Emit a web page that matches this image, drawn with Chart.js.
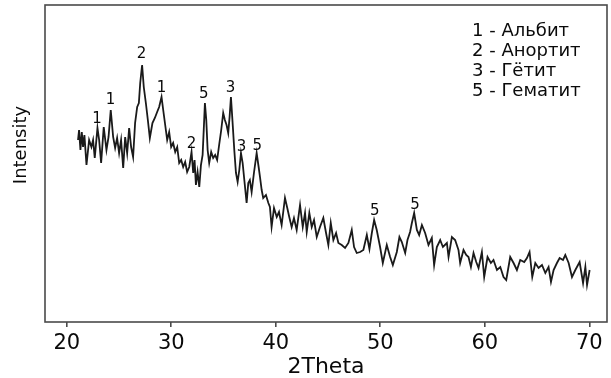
<!DOCTYPE html>
<html>
<head>
<meta charset="utf-8">
<script src="https://cdn.jsdelivr.net/npm/chart.js@4"></script>
<style>
  html, body { margin: 0; padding: 0; background: #fff; }
  #wrap { width: 611px; height: 378px; }
</style>
</head>
<body>
<div id="wrap"><canvas id="xrdChart" width="611" height="378"></canvas></div>
<script>
// diffraction pattern (intensity in arbitrary units)
var twoTheta = [
  21.08, 21.18, 21.31, 21.44, 21.56, 21.69, 21.89, 22.14, 22.36, 22.52, 22.68, 22.94, 23.1, 23.29, 23.54, 23.8,
  24.0, 24.21, 24.44, 24.63, 24.82, 25.01, 25.2, 25.4, 25.59, 25.78, 25.97, 26.16, 26.35, 26.54, 26.74, 26.9,
  27.03, 27.21, 27.37, 27.57, 27.76, 27.95, 28.2, 28.43, 28.65, 28.84, 29.07, 29.23, 29.42, 29.61, 29.8, 29.99,
  30.18, 30.38, 30.57, 30.76, 30.95, 31.14, 31.33, 31.52, 31.72, 31.94, 32.1, 32.23, 32.36, 32.52, 32.68, 32.84,
  33.0, 33.12, 33.22, 33.35, 33.48, 33.63, 33.82, 34.01, 34.2, 34.39, 34.58, 34.78, 34.97, 35.13, 35.29, 35.45,
  35.58, 35.71, 35.87, 36.03, 36.19, 36.35, 36.51, 36.67, 36.83, 36.99, 37.21, 37.37, 37.52, 37.69, 37.91, 38.17,
  38.36, 38.49, 38.65, 38.8, 39.06, 39.29, 39.44, 39.6, 39.83, 40.09, 40.31, 40.56, 40.88, 41.1, 41.29, 41.52,
  41.74, 42.0, 42.32, 42.58, 42.8, 42.96, 43.21, 43.44, 43.66, 43.92, 44.23, 44.55, 44.81, 45.03, 45.26, 45.51,
  45.77, 45.99, 46.31, 46.63, 46.95, 47.27, 47.49, 47.75, 48.07, 48.38, 48.71, 48.96, 49.19, 49.41, 49.66, 49.98,
  50.24, 50.62, 50.94, 51.2, 51.58, 51.83, 52.06, 52.38, 52.6, 52.85, 53.02, 53.24, 53.5, 53.72, 53.98, 54.29,
  54.61, 54.93, 55.15, 55.41, 55.73, 55.99, 56.37, 56.53, 56.85, 57.16, 57.48, 57.64, 57.96, 58.22, 58.44, 58.67,
  58.92, 59.18, 59.4, 59.72, 59.94, 60.26, 60.58, 60.83, 61.16, 61.48, 61.79, 62.05, 62.43, 62.75, 63.07, 63.39,
  63.77, 64.03, 64.28, 64.54, 64.83, 65.14, 65.47, 65.79, 66.1, 66.33, 66.58, 66.9, 67.16, 67.48, 67.7, 68.02,
  68.34, 68.66, 69.07, 69.4, 69.62, 69.78, 70.03
];
var intensity = [
  182, 192, 172, 190, 175, 187, 157, 182, 175, 182, 164, 194, 182, 159, 195, 172,
  185, 212, 185, 174, 184, 169, 182, 154, 185, 169, 194, 175, 165, 199, 215, 219,
  239, 257, 235, 219, 202, 184, 199, 204, 210, 215, 225, 212, 197, 182, 190, 175,
  179, 170, 175, 159, 162, 155, 160, 150, 155, 170, 149, 162, 137, 150, 135, 157,
  167, 195, 219, 202, 172, 159, 170, 164, 167, 162, 177, 192, 209, 202, 197, 189,
  205, 225, 199, 172, 149, 140, 152, 169, 159, 142, 119, 139, 142, 130, 149, 169,
  155, 145, 132, 124, 127, 119, 115, 95, 114, 105, 110, 97, 124, 114, 105, 95,
  104, 92, 117, 95, 109, 90, 109, 95, 102, 85, 95, 104, 89, 77, 99, 82,
  89, 79, 77, 74, 79, 92, 75, 69, 70, 72, 87, 73, 89, 102, 92, 75,
  59, 77, 65, 57, 70, 85, 80, 69, 82, 90, 99, 109, 92, 87, 97, 89,
  77, 84, 57, 75, 82, 75, 79, 65, 85, 82, 72, 59, 72, 67, 65, 55,
  69, 60, 54, 70, 45, 65, 59, 62, 52, 55, 45, 42, 65, 59, 52, 62,
  60, 64, 70, 45, 59, 54, 57, 49, 55, 40, 52, 59, 64, 62, 67, 59,
  45, 52, 60, 39, 55, 37, 52
];

// phase numbers written above the peaks
var peakText = ['1', '1', '2', '1', '2', '5', '3', '3', '5', '5', '5'];
var peakX = [22.9, 24.2, 27.15, 29.07, 31.94, 33.12, 35.68, 36.73, 38.23, 49.47, 53.33];
var peakY = [203, 222, 268, 234, 178, 228, 234, 175, 176, 111, 117];

var legendLines = ['1 - Альбит', '2 - Анортит', '3 - Гётит', '5 - Гематит'];
var xTicks = [20, 30, 40, 50, 60, 70];

var points = twoTheta.map(function(t, i) {
    return { x: t, y: intensity[i] };
});

// frame, peak numbers, phase list and the y title
var extras = {
    id: 'extras',
    afterDatasetsDraw: function(chart) {
        var c = chart.ctx;
        var area = chart.chartArea;
        var xs = chart.scales.x, ys = chart.scales.y;
        c.save();
        c.strokeStyle = '#4a4a4a';
        c.lineWidth = 1.6;
        c.strokeRect(area.left, area.top, area.right - area.left, area.bottom - area.top);

        c.fillStyle = '#0a0a0a';
        c.textAlign = 'center';
        c.textBaseline = 'middle';
        c.font = '15px "DejaVu Sans"';
        peakText.forEach(function(t, i) {
            c.fillText(t, xs.getPixelForValue(peakX[i]), ys.getPixelForValue(peakY[i]));
        });

        c.textAlign = 'left';
        c.font = '18px "DejaVu Sans"';
        legendLines.forEach(function(t, i) {
            c.fillText(t, 472, 31 + i * 20);
        });

        c.translate(21, 145);
        c.rotate(-Math.PI / 2);
        c.textAlign = 'center';
        c.font = '18px "DejaVu Sans"';
        c.fillText('Intensity', 0, 0);
        c.restore();
    }
};

var ctx = document.getElementById('xrdChart');
var xrdChart = new Chart(ctx.getContext('2d'), {
    type: 'scatter',
    data: {
        datasets: [{
            data: points,
            showLine: true,
            borderColor: '#1a1a1a',
            borderWidth: 1.8,
            pointRadius: 0,
            tension: 0
        }]
    },
    options: {
        responsive: false,
        animation: false,
        layout: { padding: { left: 45, top: 5, right: 4, bottom: 0 } },
        scales: {
            x: {
                type: 'linear',
                min: 17.92,
                max: 71.69,
                afterBuildTicks: function(scale) {
                    scale.ticks = xTicks.map(function(v) { return { value: v }; });
                },
                afterFit: function(scale) { scale.height = 56; },
                grid: { drawOnChartArea: false, drawTicks: true, tickLength: 5, color: '#4a4a4a', lineWidth: 1.6 },
                border: { display: false },
                ticks: {
                    color: '#0a0a0a',
                    padding: 4,
                    maxRotation: 0,
                    font: { family: 'DejaVu Sans', size: 21 }
                },
                title: {
                    display: true,
                    text: '2Theta',
                    color: '#0a0a0a',
                    padding: 0,
                    font: { family: 'DejaVu Sans', size: 22, lineHeight: 1 }
                }
            },
            y: {
                display: false,
                min: 0,
                max: 317
            }
        },
        plugins: {
            legend: { display: false },
            tooltip: { enabled: false }
        }
    },
    plugins: [extras]
});
</script>
</body>
</html>
